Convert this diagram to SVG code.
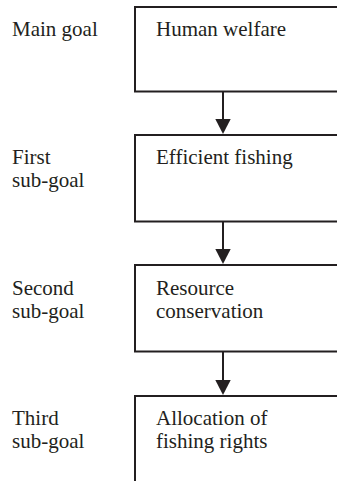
<svg xmlns="http://www.w3.org/2000/svg" width="337" height="481" viewBox="0 0 337 481">
<style>
.box{fill:#fff;stroke:#231f20;stroke-width:2}
.t{font-family:"Liberation Serif","Times New Roman",serif;font-size:21px;fill:#231f20}
.ln{stroke:#231f20;stroke-width:2;fill:none}
.ah{fill:#231f20}
</style>
<rect width="337" height="481" fill="#fff"/>
<g id="labels">
<text class="t" x="12" y="36">Main goal</text>
<text class="t" x="12" y="164">First</text>
<text class="t" x="12" y="187">sub-goal</text>
<text class="t" x="12" y="295">Second</text>
<text class="t" x="12" y="318">sub-goal</text>
<text class="t" x="12" y="425">Third</text>
<text class="t" x="12" y="448">sub-goal</text>
</g>
<g id="node-human-welfare">
<rect class="box" x="135" y="7" width="250" height="84.5"/>
<text class="t" x="156" y="36">Human welfare</text>
</g>
<g id="node-efficient-fishing">
<rect class="box" x="135" y="135" width="250" height="86.5"/>
<text class="t" x="156" y="164">Efficient fishing</text>
</g>
<g id="node-resource-conservation">
<rect class="box" x="135" y="265" width="250" height="86.5"/>
<text class="t" x="156" y="295">Resource</text>
<text class="t" x="156" y="318">conservation</text>
</g>
<g id="node-allocation">
<rect class="box" x="135" y="396" width="250" height="120"/>
<text class="t" x="156" y="425">Allocation of</text>
<text class="t" x="156" y="448">fishing rights</text>
</g>
<g id="connectors">
<line class="ln" x1="223" y1="92" x2="223" y2="121"/>
<polygon class="ah" points="215.3,119 230.7,119 223,134"/>
<line class="ln" x1="223" y1="222" x2="223" y2="251"/>
<polygon class="ah" points="215.3,249 230.7,249 223,264"/>
<line class="ln" x1="223" y1="352" x2="223" y2="382"/>
<polygon class="ah" points="215.3,380 230.7,380 223,395"/>
</g>
</svg>
